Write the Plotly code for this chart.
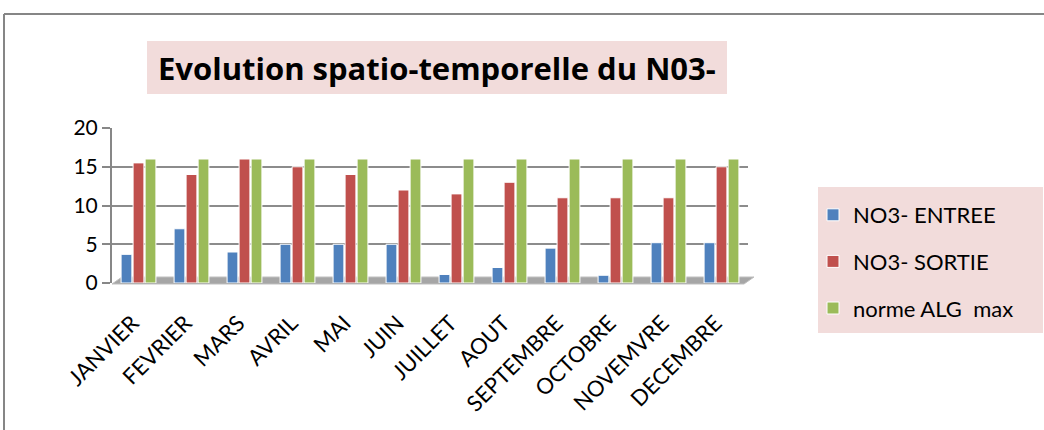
import plotly.graph_objects as go

months = ["JANVIER", "FEVRIER", "MARS", "AVRIL", "MAI", "JUIN", "JUILLET",
          "AOUT", "SEPTEMBRE", "OCTOBRE", "NOVEMVRE", "DECEMBRE"]
no3_entree = [3.7, 7.0, 4.0, 5.0, 5.0, 5.0, 1.1, 2.0, 4.5, 1.0, 5.2, 5.2]
no3_sortie = [15.5, 14.0, 16.0, 15.0, 14.0, 12.0, 11.5, 13.0, 11.0, 11.0, 11.0, 15.0]
norme_max = [16, 16, 16, 16, 16, 16, 16, 16, 16, 16, 16, 16]
series_names = ["NO3- ENTREE", "NO3- SORTIE", "norme ALG  max"]
colors = ["#4F81BD", "#C0504D", "#9BBB59"]
title_text = "Evolution spatio-temporelle du N03-"

FONT = "Lato"
W_FIG, H_FIG = 1044, 430
L, R, T, B = 112, 748, 128, 283
W, H = R - L, B - T


def px(x):
    return (x - L) / W


def py(y):
    return (B - y) / H


fig = go.Figure()
for i, (name, vals) in enumerate(zip(series_names, [no3_entree, no3_sortie, norme_max])):
    fig.add_trace(go.Bar(
        x=months, y=vals, name=name, legendgroup=f"g{i}",
        marker=dict(color=colors[i], line=dict(color="white", width=1)),
    ))

shapes = [
    # outer frame (top and left)
    dict(type="line", xref="paper", yref="paper", x0=px(4), x1=px(1044), y0=py(14), y1=py(14),
         line=dict(color="#868686", width=2)),
    dict(type="line", xref="paper", yref="paper", x0=px(4), x1=px(4), y0=py(14), y1=py(430),
         line=dict(color="#868686", width=2)),
    # title background
    dict(type="rect", xref="paper", yref="paper", x0=px(147), x1=px(727), y0=py(94), y1=py(41),
         fillcolor="#F2DCDB", line=dict(width=0), layer="below"),
    # legend background
    dict(type="rect", xref="paper", yref="paper", x0=px(818), x1=px(1043), y0=py(333), y1=py(187),
         fillcolor="#F2DCDB", line=dict(width=0), layer="below"),
    # floor
    dict(type="path", xref="paper", yref="paper",
         path=f"M {px(112)},{py(284)} L {px(744)},{py(284)} L {px(754)},{py(277)} L {px(122)},{py(277)} Z",
         fillcolor="#A6A6A6", line=dict(color="#BFBFBF", width=1), layer="below"),
]

fig.update_layout(
    width=W_FIG, height=H_FIG,
    margin=dict(l=L, r=W_FIG - R, t=T, b=H_FIG - B),
    paper_bgcolor="white", plot_bgcolor="rgba(0,0,0,0)",
    barmode="group", bargap=0.32, bargroupgap=0.1,
    font=dict(family=FONT, color="black"),
    shapes=shapes,
    annotations=[dict(text=f"<b>{title_text}</b>", xref="paper", yref="paper",
                      x=px(437), y=py(68), xanchor="center", yanchor="middle",
                      showarrow=False, font=dict(size=31, family="Open Sans", color="black"))],
    legend=dict(x=px(813), y=py(194), xanchor="left", yanchor="top",
                bgcolor="rgba(0,0,0,0)", font=dict(size=22, family=FONT),
                tracegroupgap=15, traceorder="grouped"),
    xaxis=dict(tickangle=-45, tickfont=dict(size=22), showline=False, ticks="",
               showgrid=False, ticklabelstandoff=22, ticklabelshift=-6),
    yaxis=dict(range=[0, 20], dtick=5, tickfont=dict(size=21), ticks="outside",
               ticklen=8, tickcolor="#878787", tickwidth=2,
               showline=True, linecolor="#878787", linewidth=2,
               showgrid=True, gridcolor="#8C8C8C", gridwidth=2, zeroline=False),
)

fig.write_html("out.html", config={"displayModeBar": False},
               post_script="document.body.style.margin='0';document.body.style.overflow='hidden';")
